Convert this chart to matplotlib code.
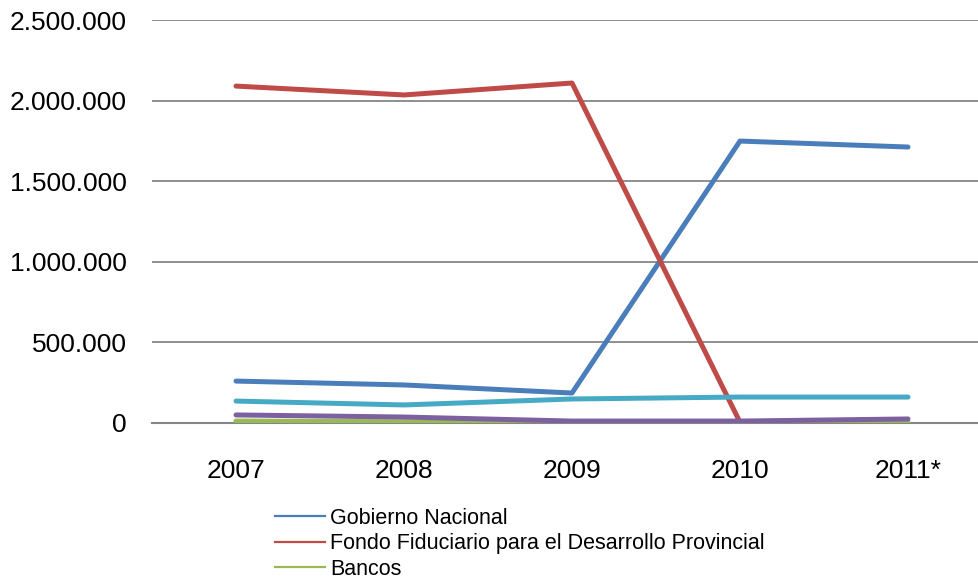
import numpy as np
import matplotlib.pyplot as plt

plt.rcParams["font.family"] = ["Liberation Sans", "DejaVu Sans"]

years = ["2007", "2008", "2009", "2010", "2011*"]
gobierno = [260000, 236000, 186000, 1749000, 1712000]
fondo = [2090000, 2035000, 2109000, 5000, np.nan]
bancos = [12000, 8000, 2000, 1000, 3000]
serie4 = [136000, 112000, 149000, 161000, 161000]
serie5 = [50000, 37000, 12000, 12000, 25000]

fig = plt.figure(figsize=(9.79, 5.78), dpi=100)
ax = fig.add_axes([152 / 979, 1 - 423 / 578, 840 / 979, 403 / 578])

x = np.arange(len(years))
lw = 3.6
ax.plot(x, bancos, color="#98B954", lw=lw, solid_capstyle="round", zorder=3)
ax.plot(x, fondo, color="#BE4B48", lw=lw, solid_capstyle="round", zorder=4)
ax.plot(x, serie5, color="#7D60A0", lw=lw, solid_capstyle="round", zorder=5)
ax.plot(x, serie4, color="#46AAC5", lw=lw, solid_capstyle="round", zorder=6)
ax.plot(x, gobierno, color="#4A7EBB", lw=lw, solid_capstyle="round", zorder=2)

ax.set_xlim(-0.5, 4.5)
ax.set_ylim(0, 2500000)
ax.set_yticks(np.arange(0, 2500001, 500000))
ax.set_yticklabels(["0", "500.000", "1.000.000", "1.500.000", "2.000.000", "2.500.000"])
ax.set_xticks(x)
ax.set_xticklabels(years)
ax.grid(axis="y", color="#868686", lw=1.3)
ax.set_axisbelow(True)
for s in ["top", "right", "left"]:
    ax.spines[s].set_visible(False)
ax.spines["bottom"].set_color("#868686")
ax.spines["bottom"].set_linewidth(1.5)
ax.tick_params(axis="y", length=0, pad=18, labelsize=19)
ax.tick_params(axis="x", length=0, pad=26, labelsize=19)

# legend (only first three entries visible in the original)
handles = [plt.Line2D([], [], color=c, lw=1.6) for c in ["#4A7EBB", "#BE4B48", "#98B954"]]
labels = ["Gobierno Nacional", "Fondo Fiduciario para el Desarrollo Provincial", "Bancos"]
fig.legend(handles, labels, loc="upper left", bbox_to_anchor=(275 / 979, 1 - 508 / 578),
           frameon=False, fontsize=15.5, handlelength=2.3, handletextpad=0.25,
           labelspacing=0.2, borderpad=0, borderaxespad=0)

fig.savefig("out.png", dpi=100)
